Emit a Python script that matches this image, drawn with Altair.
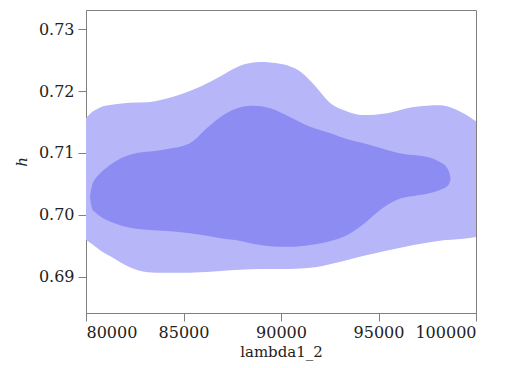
import altair as alt
import pandas as pd

# Outer (95%) contour: x, upper h, lower h
outer_x = [80000, 80200, 80700, 81400, 82250, 83150, 84050, 84800, 85850, 86900,
           87900, 88950, 89950, 91000, 91750, 92500, 93300, 94200, 95450, 96800,
           98150, 99350, 100000]
outer_hi = [0.7156, 0.7163, 0.7173, 0.7178, 0.7181, 0.7182, 0.7187, 0.7194, 0.7207, 0.7224,
            0.7241, 0.7247, 0.7244, 0.7231, 0.7208, 0.7181, 0.7168, 0.7161, 0.7164, 0.7174,
            0.7177, 0.7164, 0.7151]
outer_lo = [0.6959, 0.6955, 0.6943, 0.6930, 0.6915, 0.6907, 0.6906, 0.6906, 0.6907, 0.6909,
            0.6911, 0.6912, 0.6912, 0.6913, 0.6915, 0.6920, 0.6926, 0.6933, 0.6942, 0.6951,
            0.6958, 0.6961, 0.6964]

# Inner (68%) contour
inner_x = [80200, 80300, 80500, 80700, 81400, 82250, 83950, 85350, 86200, 86900,
           87650, 88550, 89450, 90450, 91500, 92500, 93400, 94200, 95100, 95950,
           97650, 98150, 98480, 98630, 98690]
inner_hi = [0.7029, 0.7046, 0.7059, 0.7066, 0.7084, 0.7097, 0.7105, 0.7116, 0.7140, 0.7158,
            0.7171, 0.7176, 0.7172, 0.7158, 0.7142, 0.7132, 0.7122, 0.7116, 0.7108, 0.7100,
            0.7092, 0.7085, 0.7077, 0.7068, 0.7060]
inner_lo = [0.7029, 0.7011, 0.7003, 0.6998, 0.6987, 0.6979, 0.6974, 0.6970, 0.6966, 0.6962,
            0.6959, 0.6953, 0.6949, 0.6948, 0.6951, 0.6957, 0.6967, 0.6984, 0.7008, 0.7024,
            0.7035, 0.7040, 0.7045, 0.7051, 0.7057]

x_ticks = [80000, 85000, 90000, 95000, 100000]
y_ticks = [0.69, 0.70, 0.71, 0.72, 0.73]

outer = pd.DataFrame({"x": outer_x, "hi": outer_hi, "lo": outer_lo})
inner = pd.DataFrame({"x": inner_x, "hi": inner_hi, "lo": inner_lo})

FONT = "DejaVu Serif"
xs = alt.Scale(domain=[80000, 100000], nice=False, zero=False)
ys = alt.Scale(domain=[0.6841, 0.7331], nice=False, zero=False)

xaxis = alt.Axis(values=x_ticks, format="d", title="lambda1_2", grid=False,
                 tickSize=8, labelPadding=3, titlePadding=4,
                 domainColor="#808080", tickColor="#808080",
                 labelFont=FONT, labelFontSize=16, labelColor="#222",
                 titleFont=FONT, titleFontSize=15, titleFontWeight="normal", titleColor="#222")
yaxis = alt.Axis(values=y_ticks, format=".2f", title="h", grid=False,
                 tickSize=8, labelPadding=4, titlePadding=9,
                 domainColor="#808080", tickColor="#808080",
                 labelFont=FONT, labelFontSize=16, labelColor="#222",
                 titleFont=FONT, titleFontSize=15, titleFontWeight="normal",
                 titleFontStyle="italic", titleColor="#222")

o = alt.Chart(outer).mark_area(color="#b6b6f9", interpolate="monotone", opacity=1).encode(
    x=alt.X("x:Q", scale=xs, axis=xaxis),
    y=alt.Y("hi:Q", scale=ys, axis=yaxis),
    y2="lo:Q",
)
i = alt.Chart(inner).mark_area(color="#8c8cf3", interpolate="monotone", opacity=1).encode(
    x=alt.X("x:Q", scale=xs),
    y=alt.Y("hi:Q", scale=ys),
    y2="lo:Q",
)

chart = (o + i).properties(
    width=390, height=303,
    autosize=alt.AutoSizeParams(type="none"),
    padding={"left": 86, "top": 10, "right": 35, "bottom": 55},
    background="white",
).configure_view(stroke="#808080", strokeWidth=1)

chart.save("out.html", embed_options={"renderer": "svg", "actions": False})
